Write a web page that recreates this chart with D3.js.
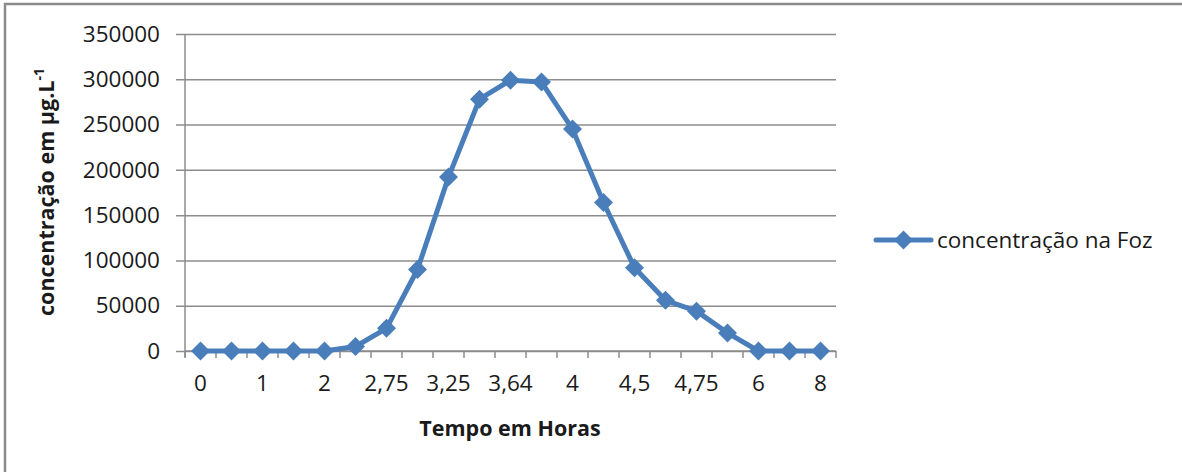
<!DOCTYPE html>
<html>
<head>
<meta charset="utf-8">
<script src="https://cdn.jsdelivr.net/npm/d3@7"></script>
<style>
  html, body { margin: 0; padding: 0; background: #fff; }
  svg { display: block; }
</style>
</head>
<body>
<svg id="chart" width="1182" height="472"></svg>
<script>
// Sampling times (hours) — every category on the axis
const times = ["0", "0,5", "1", "1,5", "2", "2,5", "2,75", "3", "3,25", "3,5", "3,64",
               "3,75", "4", "4,25", "4,5", "4,6", "4,75", "5", "6", "7", "8"];
// Concentration at the river mouth (µg/L)
const concentration = [0, 0, 0, 0, 0, 5000, 25000, 90000, 192000, 278000, 299000,
                       297000, 245000, 164000, 92000, 56000, 44000, 20000, 0, 0, 0];
const yTicks = [0, 50000, 100000, 150000, 200000, 250000, 300000, 350000];
const seriesName = "concentração na Foz";

const svg = d3.select("#chart");
const font = "'Open Sans', 'DejaVu Sans', sans-serif";
const blue = "#4a7ebb";
const gridCol = "#8c8c8c";
const textCol = "#1a1a1a";

// outer chart frame
svg.append("rect")
  .attr("x", 5).attr("y", 4).attr("width", 1200).attr("height", 500)
  .attr("fill", "#fff").attr("stroke", "#8a8a8a").attr("stroke-width", 2.5);

const plot = { left: 185, right: 836, top: 34, bottom: 351 };

const x = d3.scaleBand().domain(times).range([plot.left, plot.right]);
const y = d3.scaleLinear().domain([0, 350000]).range([plot.bottom, plot.top]);

// horizontal gridlines + y axis
const yAxis = d3.axisLeft(y).tickValues(yTicks).tickSize(-(plot.right - plot.left))
  .tickSizeOuter(0).tickFormat(d3.format("d"));
const gy = svg.append("g").attr("transform", `translate(${plot.left},0)`).call(yAxis);
gy.select(".domain").remove();
gy.selectAll(".tick line").attr("stroke", gridCol).attr("stroke-width", 1.5)
  .attr("x1", -9);
gy.selectAll(".tick text").attr("font-family", font).attr("font-size", 22.5)
  .attr("fill", textCol).attr("x", -25);

// vertical axis line
svg.append("line")
  .attr("x1", plot.left).attr("x2", plot.left)
  .attr("y1", plot.top).attr("y2", plot.bottom + 6)
  .attr("stroke", gridCol).attr("stroke-width", 1.5);

// category axis: a tick between every category, labels on every other one
const xAxis = d3.axisBottom(x).tickSize(0).tickPadding(24)
  .tickFormat((d, i) => (i % 2 === 0 ? d : ""));
const gx = svg.append("g").attr("transform", `translate(0,${plot.bottom})`).call(xAxis);
gx.select(".domain").remove();
gx.selectAll(".tick text").attr("font-family", font).attr("font-size", 22.5).attr("fill", textCol);

svg.append("line")
  .attr("x1", plot.left).attr("x2", plot.right)
  .attr("y1", plot.bottom).attr("y2", plot.bottom)
  .attr("stroke", gridCol).attr("stroke-width", 1.5);

const boundaries = times.map(t => x(t)).concat([x.range()[1]]);
svg.append("g").selectAll("line").data(boundaries).join("line")
  .attr("x1", d => d).attr("x2", d => d)
  .attr("y1", plot.bottom).attr("y2", plot.bottom + 7)
  .attr("stroke", gridCol).attr("stroke-width", 1.5);

// series line
const cx = t => x(t) + x.bandwidth() / 2;
const line = d3.line().x((d, i) => cx(times[i])).y(d => y(d));
svg.append("path").datum(concentration)
  .attr("d", line).attr("fill", "none")
  .attr("stroke", blue).attr("stroke-width", 5).attr("stroke-linejoin", "round");

// diamond markers
const diamond = d3.symbol().type(d3.symbolDiamond2).size(230);
svg.append("g").selectAll("path").data(concentration).join("path")
  .attr("d", diamond)
  .attr("transform", (d, i) => `translate(${cx(times[i])},${y(d)})`)
  .attr("fill", blue);

// axis titles
svg.append("text")
  .attr("x", 510).attr("y", 436)
  .attr("text-anchor", "middle")
  .attr("font-family", font).attr("font-weight", "bold").attr("font-size", 21.5)
  .attr("fill", textCol)
  .text("Tempo em Horas");

const yt = svg.append("text")
  .attr("transform", "translate(54,192) rotate(-90)")
  .attr("text-anchor", "middle")
  .attr("font-family", font).attr("font-weight", "bold").attr("font-size", 21.5)
  .attr("fill", textCol);
yt.append("tspan").text("concentração em µg.L");
yt.append("tspan").attr("dy", -10).attr("font-size", 14).text("-1");

// legend
const lg = svg.append("g").attr("transform", "translate(876,240)");
lg.append("line").attr("x1", 0).attr("x2", 55).attr("y1", 0).attr("y2", 0)
  .attr("stroke", blue).attr("stroke-width", 5).attr("stroke-linecap", "round");
lg.append("path").attr("d", diamond).attr("transform", "translate(27.5,0)").attr("fill", blue);
lg.append("text").attr("x", 61).attr("y", 0).attr("dy", "0.35em")
  .attr("font-family", font).attr("font-size", 22.5).attr("fill", textCol)
  .text(seriesName);
</script>
</body>
</html>
